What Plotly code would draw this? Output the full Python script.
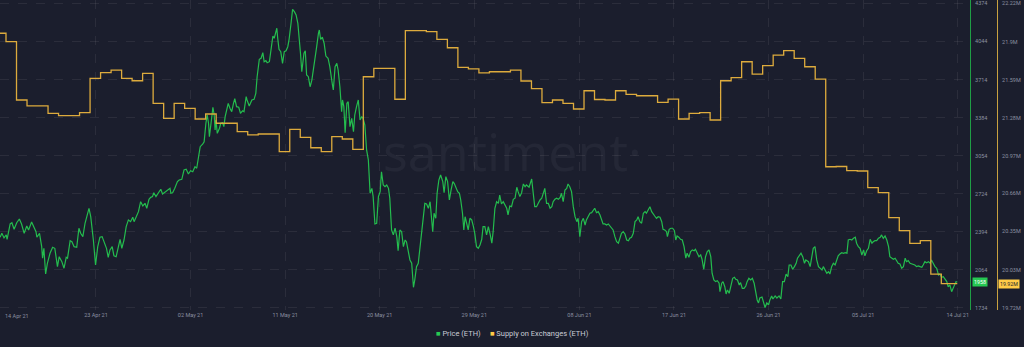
import pandas as pd
import plotly.graph_objects as go

# ---------------- data ----------------
# ETH price (USD); times are hours after 14 Apr 2021 00:00
price_hours = [
    -3, 1, 6, 11, 13, 20, 24, 29, 35, 41,
    46, 52, 58, 62, 69, 73, 79, 81, 87, 92,
    94, 97, 101, 105, 111, 117, 122, 128, 132, 138,
    143, 148, 151, 157, 161, 166, 172, 177, 181, 186,
    191, 200, 204, 210, 215, 220, 225, 230, 237, 240,
    244, 248, 253, 257, 262, 267, 271, 275, 280, 285,
    290, 295, 300, 303, 309, 313, 318, 323, 328, 332,
    337, 341, 345, 348, 353, 358, 364, 368, 374, 379,
    385,
    387, 391, 396, 402, 406, 412, 417, 422, 427, 432,
    437, 442, 446, 450, 454, 460, 463, 467, 470, 473,
    475, 478, 480, 483, 486, 488, 490, 493, 498, 501,
    505, 508, 511, 515, 518, 522, 526, 530, 533, 537,
    542, 546, 551, 554, 559, 561, 566, 572, 577, 581,
    584, 589, 593, 597, 600, 604, 607, 612, 615, 620,
    623, 626, 629, 631, 634, 638, 642, 646, 650, 654,
    657, 661, 665, 669, 673, 677, 680, 683, 686, 688,
    691, 694, 697, 701, 705, 709, 712, 716, 720, 724,
    726, 729, 733, 737, 741, 746, 750,
    756, 758, 762, 766, 769, 773, 777, 779, 782, 785,
    789, 792, 796, 800, 804, 807, 811, 815, 819, 823,
    826, 830, 834, 838, 842, 846, 849, 853, 857, 861,
    865, 868, 872, 876, 880, 884, 887, 891, 895, 899,
    903, 906, 910, 914, 918, 922, 925, 929, 933, 937,
    941, 944, 948, 952, 956, 960, 963, 967, 971, 975,
    979, 983, 985, 988, 992, 995, 999, 1003, 1008, 1011,
    1015, 1019, 1023, 1027, 1031, 1034, 1038, 1042, 1046, 1049,
    1053, 1056, 1059, 1063, 1066, 1070, 1074, 1078, 1081, 1085,
    1089, 1093,
    1097, 1100, 1104, 1108, 1112, 1116, 1120, 1123, 1127, 1131,
    1135, 1138, 1142, 1146, 1150, 1154, 1157, 1161, 1165, 1169,
    1173, 1177, 1180, 1184, 1188, 1192, 1196, 1199, 1205, 1211,
    1215, 1218, 1222, 1226, 1230, 1234, 1237, 1241, 1245, 1249,
    1253, 1257, 1260, 1264, 1268, 1272, 1276, 1279, 1283, 1287,
    1291, 1294, 1298, 1302, 1306, 1310, 1314, 1317, 1321, 1325,
    1329, 1333, 1336, 1340, 1344, 1348, 1352, 1355, 1359, 1363,
    1367, 1371, 1374, 1378, 1382, 1386, 1390, 1394, 1397, 1401,
    1405, 1409, 1413, 1416, 1420, 1424, 1428, 1432, 1435, 1439,
    1443, 1447, 1451, 1454, 1458,
    1462, 1466, 1470, 1473, 1477, 1481, 1485, 1489, 1492, 1496,
    1500, 1504, 1508, 1511, 1515, 1519, 1521, 1525, 1529, 1533,
    1537, 1540, 1543, 1547, 1551, 1555, 1559, 1563, 1566, 1570,
    1574, 1578, 1582, 1585, 1589, 1593, 1597, 1600, 1604, 1608,
    1612, 1616, 1620, 1623, 1627, 1631, 1635, 1639, 1641, 1645,
    1648, 1652, 1655, 1658, 1662, 1666, 1670, 1674, 1677, 1681,
    1685, 1688, 1692, 1696, 1700, 1703, 1707, 1711, 1715, 1719,
    1722, 1726, 1729, 1732, 1737, 1740, 1744, 1748, 1752, 1755,
    1759, 1762, 1767, 1771, 1776, 1780, 1784, 1788, 1792, 1796,
    1799, 1803, 1807, 1811, 1815, 1818, 1822, 1826, 1830, 1834,
    1837, 1843,
    1847, 1851, 1854, 1858, 1862, 1866, 1870, 1874, 1877, 1881,
    1885, 1889, 1892, 1896, 1900, 1904, 1908, 1911, 1915, 1919,
    1923, 1927, 1931, 1934, 1938, 1942, 1946, 1950, 1953, 1957,
    1961, 1965, 1969, 1972, 1976, 1980, 1984, 1988, 1991, 1995,
    1999, 2003, 2007, 2010, 2014, 2018, 2022, 2026, 2029, 2033,
    2037, 2041, 2045, 2048, 2052, 2056, 2060, 2064, 2067, 2071,
    2075, 2079, 2082, 2086, 2090, 2094, 2098, 2102, 2105, 2109,
    2113, 2117, 2121, 2124, 2128, 2132, 2136, 2140, 2143, 2147,
    2151, 2155, 2159, 2162, 2166, 2170, 2172, 2176, 2180, 2183,
]
price_usd = [
    2347, 2381, 2341, 2367, 2329, 2462, 2473, 2416, 2473, 2505,
    2462, 2381, 2445, 2410, 2479, 2439, 2395, 2347, 2381, 2265,
    2165, 2251, 2028, 2121, 2208, 2260, 2251, 2092, 2178, 2135,
    2078, 2173, 2165, 2317, 2308, 2265, 2260, 2425, 2381, 2352,
    2468, 2598, 2525, 2323, 2106, 2265, 2347, 2352, 2271, 2251,
    2173, 2237, 2265, 2185, 2178, 2265, 2329, 2251, 2323, 2439,
    2497, 2482, 2520, 2482, 2531, 2569, 2655, 2618, 2641, 2598,
    2676, 2693, 2699, 2733, 2699, 2728, 2763, 2722, 2742, 2751,
    2771,
    2728, 2733, 2771, 2829, 2843, 2849, 2930, 2936, 2895, 2924,
    2915, 2959, 2945, 3045, 3132, 3156, 3175, 3335, 3407, 3335,
    3219, 3312, 3392, 3474, 3407, 3277, 3364, 3248, 3292, 3335,
    3340, 3306, 3392, 3450, 3508, 3465, 3436, 3508, 3548, 3479,
    3474, 3422, 3444, 3436, 3566, 3537, 3485, 3537, 3543, 3595,
    3739, 3890, 3899, 3947, 3869, 3878, 3860, 3869, 3971, 4092,
    4072, 4115, 4159, 4072, 3977, 3956, 3855, 3956, 3964, 3999,
    4063, 4187, 4323, 4303, 4274, 4202, 4086, 3942, 3782, 3855,
    3942, 3964, 3754, 3739, 3652, 3710, 3782, 3869, 3999, 4115,
    4144, 4063, 4081, 4029, 3918, 3899, 3826,
    3667, 3624, 3826, 3855, 3797, 3652, 3436, 3537, 3479, 3253,
    3508, 3522, 3306, 3378, 3262, 3407, 3479, 3537, 3364, 3392,
    3378, 3320, 3104, 3017, 2728, 2771, 2699, 2462, 2468, 2699,
    2742, 2915, 2800, 2785, 2800, 2771, 2685, 2410, 2367, 2425,
    2352, 2230, 2410, 2395, 2265, 2323, 2308, 2222, 2150, 2121,
    1913, 1976, 2092, 2121, 2265, 2352, 2497, 2641, 2635, 2598,
    2655, 2497, 2395, 2555, 2511, 2728, 2843, 2887, 2829, 2733,
    2872, 2829, 2670, 2757, 2829, 2815, 2771, 2742, 2728, 2670,
    2555, 2410, 2525, 2468, 2410, 2511, 2497, 2439, 2381, 2265,
    2251, 2280,
    2329, 2439, 2439, 2367, 2439, 2375, 2295, 2395, 2598, 2655,
    2641, 2713, 2635, 2655, 2627, 2598, 2540, 2618, 2612, 2676,
    2685, 2780, 2742, 2699, 2733, 2809, 2785, 2800, 2780, 2852,
    2713, 2612, 2612, 2641, 2670, 2685, 2733, 2771, 2641, 2641,
    2598, 2612, 2655, 2676, 2685, 2676, 2693, 2728, 2655, 2757,
    2771, 2809, 2785, 2742, 2612, 2525, 2482, 2511, 2352, 2482,
    2511, 2453, 2497, 2525, 2555, 2560, 2577, 2598, 2560, 2569,
    2540, 2497, 2462, 2462, 2453, 2462, 2445, 2425, 2410, 2352,
    2308, 2295, 2352, 2381, 2395, 2375, 2323, 2317, 2338, 2347,
    2381, 2482, 2497, 2525, 2482,
    2468, 2555, 2569, 2555, 2583, 2612, 2569, 2540, 2531, 2511,
    2525, 2520, 2482, 2416, 2410, 2395, 2352, 2416, 2425, 2425,
    2404, 2323, 2358, 2347, 2329, 2323, 2265, 2165, 2208, 2173,
    2222, 2237, 2230, 2243, 2213, 2178, 2193, 2156, 2069, 2178,
    2222, 2237, 2178, 2035, 1976, 1962, 1970, 1948, 1875, 1948,
    1962, 1918, 1855, 1890, 1861, 1918, 1991, 2000, 1982, 1976,
    1933, 1953, 1904, 1904, 1924, 1962, 1991, 1976, 1991, 1948,
    1875, 1803, 1777, 1820, 1829, 1786, 1738, 1777, 1760, 1803,
    1838, 1812, 1838, 1820, 1838, 1812, 1962, 1962, 2028, 2005,
    2106, 2106, 2069, 2092, 2121, 2165, 2193, 2208, 2178, 2121,
    2150, 2135,
    2092, 2178, 2251, 2265, 2150, 2092, 2078, 2063, 2092, 2063,
    2035, 2048, 2028, 2092, 2121, 2106, 2144, 2185, 2202, 2213,
    2208, 2213, 2208, 2323, 2329, 2323, 2338, 2347, 2295, 2265,
    2251, 2193, 2237, 2185, 2230, 2251, 2329, 2295, 2308, 2317,
    2317, 2338, 2347, 2367, 2338, 2358, 2323, 2265, 2178, 2165,
    2156, 2165, 2135, 2121, 2115, 2078, 2092, 2165, 2135, 2144,
    2121, 2115, 2106, 2106, 2092, 2098, 2092, 2087, 2106, 2135,
    2126, 2135, 2121, 2150, 2121, 2092, 2078, 2020, 2028, 2000,
    2005, 1982, 1962, 1918, 1933, 1875, 1890, 1918, 1962, 1958,
]

# ETH supply held on exchanges (millions), one reading per day from 13 Apr 2021 10:30
supply_daily_m = [
    21.976, 21.907, 21.428, 21.379, 21.379, 21.319, 21.299, 21.299, 21.324, 21.606,
    21.652, 21.674, 21.606, 21.586, 21.647, 21.401, 21.278, 21.401, 21.360, 21.272,
    21.313, 21.237, 21.237, 21.168, 21.141, 21.149, 21.149, 21.004, 21.187, 21.122,
    21.036, 21.004, 21.127, 21.108, 21.023, 21.619, 21.688, 21.688, 21.434, 21.997,
    21.997, 21.990, 21.926, 21.857, 21.696, 21.683, 21.650, 21.660, 21.660, 21.674,
    21.584, 21.521, 21.406, 21.428, 21.401, 21.354, 21.504, 21.432, 21.428, 21.504,
    21.475, 21.463, 21.463, 21.409, 21.436, 21.272, 21.319, 21.324, 21.264, 21.586,
    21.611, 21.742, 21.641, 21.710, 21.797, 21.833, 21.770, 21.701, 21.600, 20.880,
    20.882, 20.848, 20.845, 20.708, 20.667, 20.462, 20.355, 20.251, 20.273, 19.999,
    19.920,
]
supply_now_m = 19.92
price_now = 1958

price_ticks = [1734, 2064, 2394, 2724, 3054, 3384, 3714, 4044, 4374]
supply_ticks_m = [19.72, 20.03, 20.35, 20.66, 20.97, 21.28, 21.59, 21.9, 22.22]
date_ticks = ["2021-04-23", "2021-05-02", "2021-05-11", "2021-05-20", "2021-05-29",
              "2021-06-08", "2021-06-17", "2021-06-26", "2021-07-05", "2021-07-14"]
first_date_label = "14 Apr 21"

# ---------------- styling ----------------
BG = "#1b1e2d"
GREEN = "#26C953"
GREEN_LINE = "#24BC4E"
GOLD = "#FFCB47"
GOLD_LINE = "#DDAB3D"
TICK = "#8b90a0"
GRID = "rgba(255,255,255,0.07)"
FONT = "Roboto"

start = pd.Timestamp("2021-04-14")
price_dates = start + pd.to_timedelta(price_hours, unit="h")
supply_start = pd.Timestamp("2021-04-13 10:30")
supply_dates = list(supply_start + pd.to_timedelta(list(range(len(supply_daily_m))), unit="D"))
supply_dates.append(price_dates[-1])
supply_vals = supply_daily_m + [supply_now_m]

fig = go.Figure()
fig.add_trace(go.Scatter(
    x=price_dates, y=price_usd, mode="lines", yaxis="y",
    line=dict(color=GREEN_LINE, width=1.2), showlegend=False, hoverinfo="skip"))
fig.add_trace(go.Scatter(
    x=supply_dates, y=supply_vals, mode="lines", yaxis="y2",
    line=dict(color=GOLD_LINE, width=1.3, shape="hv"), showlegend=False, hoverinfo="skip"))

W, H = 1024, 347
plot_right = 970
fig.update_layout(
    width=W, height=H,
    margin=dict(l=0, r=0, t=0, b=37),
    paper_bgcolor=BG, plot_bgcolor=BG,
    font=dict(family=FONT, color=TICK, size=6),
    showlegend=False,
    xaxis=dict(
        domain=[0, plot_right / W],
        type="date",
        range=[start - pd.Timedelta(hours=3.2), start + pd.Timedelta(hours=2212)],
        tickvals=date_ticks,
        tickformat="%d %b %y",
        tickfont=dict(size=5.5, color=TICK),
        showgrid=True, gridcolor=GRID, griddash="dash", gridwidth=1,
        showline=False, zeroline=False, ticks="",
    ),
    yaxis=dict(
        side="right",
        range=[1716, 4404],
        tickvals=price_ticks,
        tickfont=dict(size=5.5, color=TICK),
        showgrid=True, gridcolor=GRID, griddash="dash", gridwidth=1,
        showline=True, linecolor="#1f9e45", linewidth=1,
        zeroline=False, ticks="", ticklabelstandoff=3,
    ),
    yaxis2=dict(
        overlaying="y", side="right", anchor="free", position=997 / W,
        range=[19.704, 22.249],
        tickvals=supply_ticks_m,
        ticktext=[f"{v}M" for v in supply_ticks_m],
        tickfont=dict(size=5.5, color=TICK),
        showgrid=False, showline=True, linecolor="#c9a240", linewidth=1,
        zeroline=False, ticks="", ticklabelstandoff=3,
    ),
)

# paper coordinates span the full width (no side margins) and the 310px plot height
annotations = [
    # watermark
    dict(text="santiment·", xref="paper", yref="paper", x=512 / W, y=0.515,
         showarrow=False, font=dict(family="Open Sans", size=52, color="rgba(255,255,255,0.045)")),
    # first date label, kept inside the plot edge
    dict(text=first_date_label, xref="paper", yref="paper", x=3 / W, y=0,
         xanchor="left", yanchor="top", yshift=-1, showarrow=False,
         font=dict(size=5.5, color=TICK)),
    # latest value tags
    dict(text=str(price_now), xref="paper", yref="y", x=972 / W, y=price_now,
         xanchor="left", yanchor="middle", showarrow=False, bgcolor=GREEN, borderpad=1,
         font=dict(size=5.3, color="white")),
    dict(text=f"{supply_now_m:.2f}M", xref="paper", yref="y2", x=998 / W, y=supply_now_m,
         xanchor="left", yanchor="middle", showarrow=False, bgcolor=GOLD, borderpad=1,
         font=dict(size=5.3, color=BG)),
    # legend
    dict(text=(f'<span style="color:{GREEN}">■</span> Price (ETH)     '
               f'<span style="color:{GOLD}">■</span> Supply on Exchanges (ETH)'),
         xref="paper", yref="paper", x=512 / W, y=-23 / 310,
         xanchor="center", yanchor="middle", showarrow=False,
         font=dict(size=7.5, color="#c8ccd6")),
]
fig.update_layout(annotations=annotations)

fig.write_html("out.html")
